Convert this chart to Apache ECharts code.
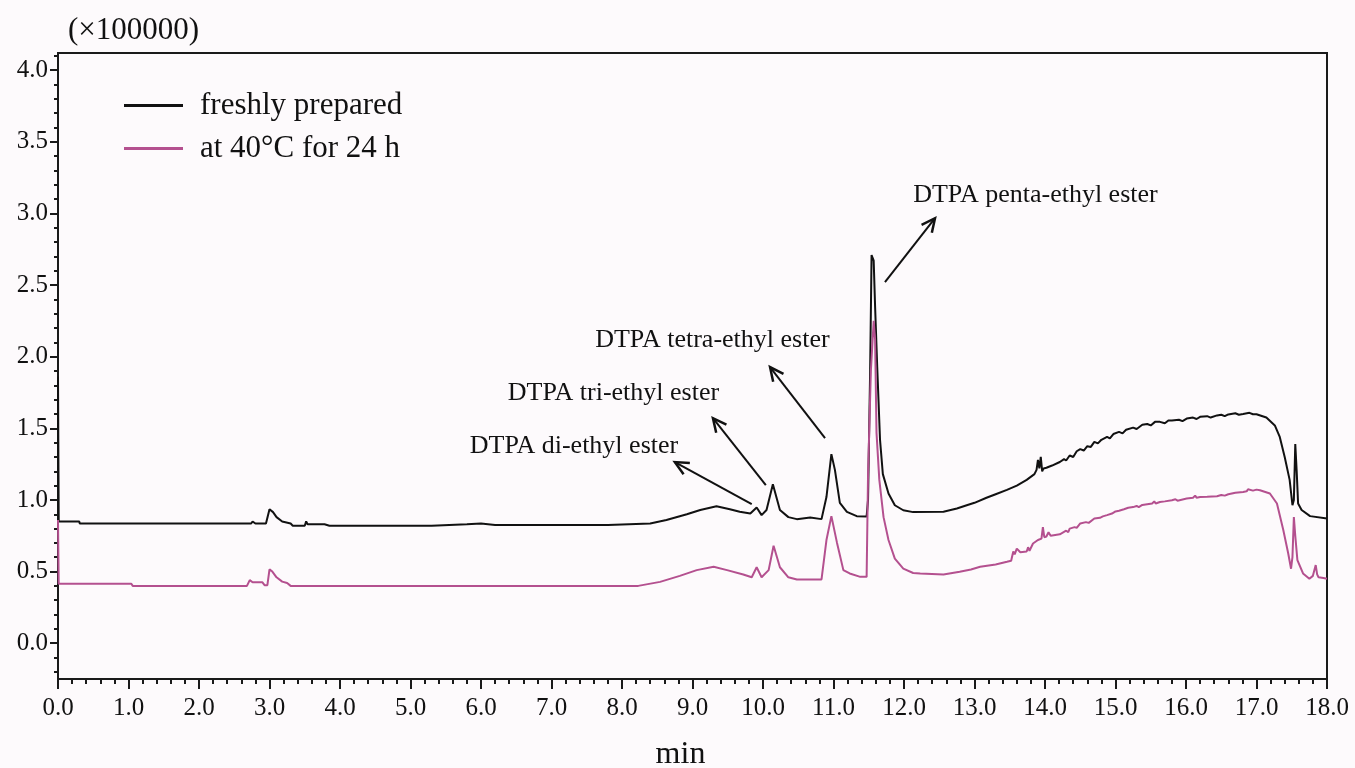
<!DOCTYPE html>
<html>
<head>
<meta charset="utf-8">
<script src="https://cdn.jsdelivr.net/npm/echarts@6/dist/echarts.min.js"></script>
<style>
html,body{margin:0;padding:0;background:#fdfafc;}
#c{width:1355px;height:768px;}
</style>
</head>
<body>
<div id="c"></div>
<script>
// ---- data (time in min, signal in ×100000) ----
const seriesNames = ['freshly prepared', 'at 40°C for 24 h'];
const xTickLabels = [0,1,2,3,4,5,6,7,8,9,10,11,12,13,14,15,16,17,18];
const yTickLabels = [0,0.5,1.0,1.5,2.0,2.5,3.0,3.5,4.0];
const yMinorTicks = [-0.2,-0.1,0.1,0.2,0.3,0.4,0.6,0.7,0.8,0.9,1.1,1.2,1.3,1.4,1.6,1.7,1.8,1.9,2.1,2.2,2.3,2.4,2.6,2.7,2.8,2.9,3.1,3.2,3.3,3.4,3.6,3.7,3.8,3.9,4.1];

const freshEarly = [[0,1.86],[0.01,0.85],[0.3,0.85],[0.31,0.835],[2.0,0.835],[2.01,0.845],[2.03,0.835],[2.2,0.835],[2.21,0.845],[2.23,0.835],[2.74,0.835],[2.76,0.85],[2.8,0.835],[2.95,0.835],[3.0,0.935],[3.05,0.915],[3.1,0.88],[3.18,0.85],[3.3,0.835],[3.33,0.82],[3.5,0.82],[3.52,0.85],[3.54,0.83],[3.7,0.83],[3.72,0.82],[3.78,0.83],[3.85,0.82],[5.3,0.82],[5.32,0.83],[5.8,0.83],[5.82,0.84],[6.0,0.835],[6.02,0.825],[6.2,0.825],[7.8,0.825],[7.82,0.83],[8.4,0.835]];
const freshPeaks = [[8.63,0.86],[8.92,0.90],[9.11,0.93],[9.34,0.956],[9.53,0.935],[9.67,0.917],[9.82,0.905],[9.91,0.947],[9.98,0.894],[10.05,0.93],[10.14,1.11],[10.24,0.93],[10.36,0.88],[10.48,0.866],[10.67,0.877],[10.83,0.866],[10.90,1.02],[10.97,1.32],[11.02,1.21],[11.09,0.98],[11.19,0.917],[11.33,0.887],[11.47,0.885],[11.49,1.0],[11.52,1.91],[11.54,2.71],[11.57,2.67],[11.59,2.35],[11.62,1.93],[11.66,1.42],[11.70,1.18],[11.78,1.045],[11.87,0.963],[11.99,0.928]];
const freshGradient = [[12.13,0.915],[12.56,0.917],[12.75,0.94],[12.89,0.963],[13.0,0.98],[13.17,1.015],[13.3,1.04],[13.46,1.07],[13.6,1.10],[13.74,1.14],[13.85,1.18],[13.88,1.21],[13.9,1.28],[13.92,1.22],[13.94,1.30],[13.96,1.20],[13.98,1.22],[14.02,1.225],[14.1,1.24],[14.21,1.265],[14.27,1.285],[14.3,1.275],[14.35,1.31],[14.4,1.30],[14.45,1.34],[14.5,1.355],[14.55,1.345],[14.6,1.375],[14.65,1.37],[14.7,1.405],[14.75,1.395],[14.8,1.42],[14.88,1.44],[14.92,1.43],[14.97,1.46],[15.05,1.475],[15.1,1.465],[15.15,1.49],[15.25,1.505],[15.3,1.495],[15.38,1.525],[15.45,1.53],[15.5,1.52],[15.56,1.545],[15.63,1.545],[15.7,1.535],[15.75,1.555],[15.8,1.555],[15.9,1.56],[15.95,1.55],[16.01,1.568],[16.1,1.575],[16.15,1.565],[16.2,1.58],[16.3,1.585],[16.35,1.575],[16.44,1.59],[16.5,1.595],[16.55,1.585],[16.6,1.597],[16.7,1.605],[16.75,1.595],[16.81,1.60],[16.9,1.608],[16.95,1.598],[17.0,1.598],[17.14,1.575],[17.26,1.52],[17.33,1.44],[17.4,1.30],[17.47,1.14],[17.51,0.963],[17.53,1.0],[17.55,1.39],[17.57,1.2],[17.59,0.975],[17.64,0.93],[17.76,0.887],[18.0,0.87]];

const agedEarly = [[0,0.86],[0.01,0.415],[0.95,0.415],[0.97,0.405],[1.0,0.415],[1.02,0.405],[1.04,0.415],[1.06,0.40],[2.68,0.40],[2.72,0.44],[2.76,0.425],[2.9,0.425],[2.93,0.405],[2.97,0.405],[3.0,0.515],[3.04,0.5],[3.1,0.46],[3.18,0.43],[3.25,0.42],[3.3,0.40],[8.23,0.40]];
const agedPeaks = [[8.54,0.428],[8.82,0.47],[9.06,0.51],[9.30,0.533],[9.49,0.51],[9.72,0.48],[9.84,0.46],[9.91,0.53],[9.98,0.46],[10.08,0.51],[10.15,0.68],[10.24,0.53],[10.36,0.46],[10.48,0.445],[10.83,0.445],[10.90,0.72],[10.97,0.887],[11.05,0.70],[11.14,0.51],[11.23,0.487],[11.38,0.463],[11.47,0.463],[11.49,1.18],[11.53,1.90],[11.57,2.25],[11.59,2.12],[11.61,1.47],[11.65,1.14],[11.71,0.88],[11.78,0.72],[11.87,0.59],[11.99,0.52]];
const agedGradient = [[12.13,0.49],[12.23,0.487],[12.56,0.48],[12.79,0.498],[12.95,0.515],[13.08,0.533],[13.3,0.55],[13.46,0.568],[13.52,0.575],[13.55,0.64],[13.57,0.62],[13.6,0.66],[13.65,0.635],[13.74,0.64],[13.76,0.67],[13.78,0.645],[13.83,0.696],[13.9,0.72],[13.95,0.73],[13.97,0.81],[13.99,0.74],[14.02,0.745],[14.05,0.775],[14.08,0.75],[14.21,0.76],[14.3,0.785],[14.33,0.775],[14.35,0.80],[14.42,0.81],[14.45,0.805],[14.5,0.836],[14.58,0.845],[14.62,0.84],[14.7,0.87],[14.78,0.875],[14.82,0.885],[14.88,0.894],[14.95,0.905],[15.0,0.92],[15.05,0.925],[15.12,0.935],[15.18,0.945],[15.25,0.95],[15.3,0.958],[15.33,0.95],[15.38,0.965],[15.45,0.97],[15.52,0.975],[15.55,0.99],[15.57,0.975],[15.63,0.986],[15.7,0.99],[15.8,0.998],[15.85,1.005],[15.88,0.995],[16.01,1.01],[16.1,1.015],[16.13,1.03],[16.15,1.015],[16.2,1.02],[16.3,1.022],[16.44,1.026],[16.5,1.035],[16.55,1.03],[16.6,1.04],[16.7,1.05],[16.72,1.045],[16.81,1.056],[16.86,1.06],[16.88,1.075],[16.9,1.062],[16.95,1.065],[17.0,1.072],[17.05,1.068],[17.19,1.045],[17.29,0.975],[17.38,0.79],[17.45,0.626],[17.49,0.52],[17.51,0.6],[17.53,0.88],[17.55,0.75],[17.58,0.58],[17.66,0.487],[17.75,0.45],[17.8,0.47],[17.84,0.545],[17.86,0.48],[17.88,0.46],[17.95,0.455],[18.0,0.45]];

// annotations (data coordinates)
const annotationTexts = ['DTPA penta-ethyl ester','DTPA tetra-ethyl ester','DTPA tri-ethyl ester','DTPA di-ethyl ester'];
const annotationAnchors = [[12.13,3.13],[7.62,2.115],[6.38,1.745],[5.84,1.375]];
const arrowTails = [[11.73,2.52],[10.88,1.431],[10.04,1.103],[9.84,0.970]];
const arrowHeads = [[12.44,2.967],[10.10,1.927],[9.29,1.571],[8.75,1.264]];

const FONT = '"Liberation Serif", "Times New Roman", serif';
const freshData = freshEarly.concat(freshPeaks, freshGradient);
const agedData = agedEarly.concat(agedPeaks, agedGradient);

const chart = echarts.init(document.getElementById('c'), null, {renderer:'canvas'});
const option = {
  backgroundColor: '#fdfafc',
  animation: false,
  grid: {left:58, right:28, top:53, bottom:89, containLabel:false, outerBoundsMode:'none', show:true, borderColor:'#1a1a1a', borderWidth:2, backgroundColor:'transparent'},
  legend: {
    data: seriesNames, orient:'vertical', left:124, top:90, padding:0, icon:'rect', itemWidth:59, itemHeight:3, itemGap:12,
    textStyle:{fontFamily:FONT, fontSize:31, color:'#111', padding:[0,0,0,12]}
  },
  xAxis: {
    type:'value', min:0, max:18, interval:1,
    name:'min', nameLocation:'middle', nameGap:60,
    nameTextStyle:{fontFamily:FONT, fontSize:32, color:'#111', padding:[0,24,0,0]},
    axisLine:{show:true, onZero:false, lineStyle:{color:'#1a1a1a', width:2}},
    axisTick:{show:true, length:10, lineStyle:{color:'#1a1a1a', width:2}},
    minorTick:{show:true, splitNumber:5, length:5, lineStyle:{color:'#1a1a1a', width:2}},
    axisLabel:{fontFamily:FONT, fontSize:25, color:'#111', margin:17, formatter:v=>v.toFixed(1)},
    splitLine:{show:false}
  },
  yAxis: [{
    type:'value', min:-0.25, max:4.12,
    name:'(×100000)', nameLocation:'end', nameGap:7,
    nameTextStyle:{fontFamily:FONT, fontSize:31, color:'#111', align:'left', verticalAlign:'bottom', padding:[0,0,0,10]},
    axisLine:{show:true, onZero:false, lineStyle:{color:'#1a1a1a', width:2}},
    axisTick:{show:true, length:8, customValues:yTickLabels, lineStyle:{color:'#1a1a1a', width:2}},
    axisLabel:{fontFamily:FONT, fontSize:25, color:'#111', margin:10, customValues:yTickLabels, formatter:v=>v.toFixed(1)},
    splitLine:{show:false}
  },{
    type:'value', min:-0.25, max:4.12, position:'left',
    axisLine:{show:false},
    axisTick:{show:true, length:4, customValues:yMinorTicks, lineStyle:{color:'#1a1a1a', width:2}},
    axisLabel:{show:false},
    splitLine:{show:false}
  }],
  series: [
    {name:seriesNames[0], type:'line', data:freshData, showSymbol:false, symbol:'none', color:'#111111', lineStyle:{width:2, color:'#111111'}, z:2},
    {name:seriesNames[1], type:'line', data:agedData, showSymbol:false, symbol:'none', color:'#b4508f', lineStyle:{width:2, color:'#b4508f'}, z:3}
  ]
};
chart.setOption(option);

function buildGraphics(){
  const els = [];
  annotationTexts.forEach((t,i)=>{
    const p = chart.convertToPixel({gridIndex:0}, annotationAnchors[i]);
    els.push({type:'text', x:p[0], y:p[1], style:{text:t, fontFamily:FONT, fontSize:26, fill:'#111', align:'left', verticalAlign:'middle'}});
  });
  arrowTails.forEach((tail,i)=>{
    const a = chart.convertToPixel({gridIndex:0}, tail);
    const b = chart.convertToPixel({gridIndex:0}, arrowHeads[i]);
    const ang = Math.atan2(a[1]-b[1], a[0]-b[0]);
    const L = 15, spread = 0.45;
    const h1 = [b[0]+L*Math.cos(ang+spread), b[1]+L*Math.sin(ang+spread)];
    const h2 = [b[0]+L*Math.cos(ang-spread), b[1]+L*Math.sin(ang-spread)];
    els.push({type:'polyline', shape:{points:[a,b]}, style:{stroke:'#111', lineWidth:2, fill:null}});
    els.push({type:'polyline', shape:{points:[h1,b,h2]}, style:{stroke:'#111', lineWidth:2.5, fill:null}});
  });
  chart.setOption({graphic:{elements:els}});
}
buildGraphics();
</script>
</body>
</html>
